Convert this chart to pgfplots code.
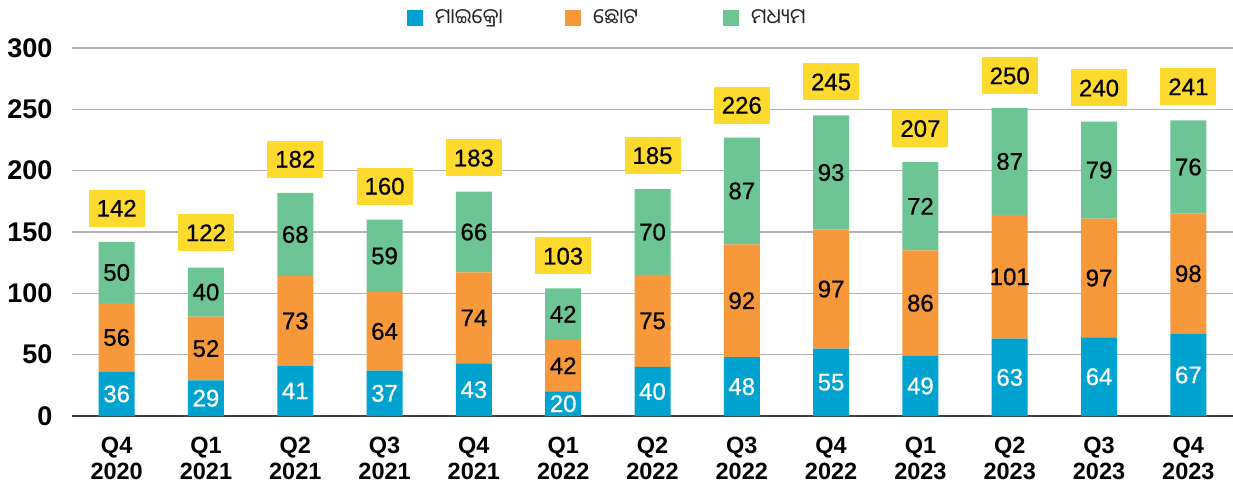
\documentclass[border=0pt]{standalone}
\usepackage{fontspec}
\setmainfont{Liberation Sans}
\newfontfamily\medfont[FakeBold=0.6]{Liberation Sans}
\newfontfamily\odia[Script=Oriya]{Noto Sans Oriya UI}
\usepackage{pgfplots}
\pgfplotsset{compat=1.18}
\usepackage{pgfplotstable}
\definecolor{cmicro}{HTML}{00A3CF}
\definecolor{csmall}{HTML}{F7993A}
\definecolor{cmed}{HTML}{6DC494}
\definecolor{cyel}{HTML}{FFDA2E}
\pgfplotstableread{
x micro small medium total
0 36 56 50 142
1 29 52 40 122
2 41 73 68 182
3 37 64 59 160
4 43 74 66 183
5 20 42 42 103
6 40 75 70 185
7 48 92 87 226
8 55 97 93 245
9 49 86 72 207
10 63 101 87 250
11 64 97 79 240
12 67 98 76 241
}\data
\pgfplotsset{
  base/.style={
    width=1161pt, height=368pt, scale only axis,
    xmin=-0.5, xmax=12.5, ymin=0, ymax=300,
    clip=false,
    /pgf/number format/assume math mode=true,
  },
  seg/.style={
    nodes near coords, point meta=explicit,
    every node near coord/.append style={anchor=center,
      font=\fontsize{24}{24}\medfont},
  },
}
\begin{document}
\begin{tikzpicture}
\begin{axis}[base,
  ybar stacked, bar width=36pt,
  axis x line*=bottom, axis y line*=left,
  x axis line style={black!75, line width=1.5pt},
  y axis line style={draw=none},
  ymajorgrids, grid style={black!30, line width=1.5pt},
  ytick={0,50,...,300},
  yticklabel style={font=\fontsize{27}{27}\selectfont\bfseries, anchor=east, xshift=-16pt},
  xtick=data,
  xticklabels={{Q4\\2020},{Q1\\2021},{Q2\\2021},{Q3\\2021},{Q4\\2021},{Q1\\2022},{Q2\\2022},{Q3\\2022},{Q4\\2022},{Q1\\2023},{Q2\\2023},{Q3\\2023},{Q4\\2023}},
  xticklabel style={font=\fontsize{23.5}{26}\selectfont\bfseries, align=center, anchor=north, yshift=-18pt},
  major tick length=0pt,
  legend columns=3,
  legend style={at={(rel axis cs:0.2885,1)}, anchor=west, yshift=30pt, draw=none, fill=none,
    inner sep=0pt, column sep=0pt, nodes={inner sep=0pt, anchor=west},
    font=\fontsize{21}{21}\selectfont, text=black!85},
  legend image code/.code={\fill[#1] (0pt,-8pt) rectangle (16pt,8pt);},
]
\addplot[fill=cmicro, draw=none, seg, every node near coord/.append style={text=white}]
  table[x=x, y=micro, meta=micro]{\data};
\addlegendentry{\hspace{12pt}\makebox[130pt][l]{\odia ମାଇକ୍ରୋ}}
\addplot[fill=csmall, draw=none, seg, every node near coord/.append style={text=black}]
  table[x=x, y=small, meta=small]{\data};
\addlegendentry{\hspace{12pt}\makebox[130pt][l]{\odia ଛୋଟ}}
\addplot[fill=cmed, draw=none, seg, every node near coord/.append style={text=black}]
  table[x=x, y=medium, meta=medium]{\data};
\addlegendentry{\hspace{12pt}\makebox[130pt][l]{\odia ମଧ୍ୟମ}}
\end{axis}
\begin{axis}[base, hide axis]
\addplot[draw=none, mark=none, nodes near coords, point meta=explicit,
  every node near coord/.append style={anchor=south, yshift=15pt, fill=cyel,
    minimum width=56pt, minimum height=37pt, inner sep=0pt, text height=17pt, text depth=0pt,
    font=\fontsize{24}{24}\medfont}]
  table[x=x, y=total, meta=total]{\data};
\end{axis}
\pgfresetboundingbox
\path (-72pt,-67pt) rectangle (1161pt,416pt);
\end{tikzpicture}
\end{document}
